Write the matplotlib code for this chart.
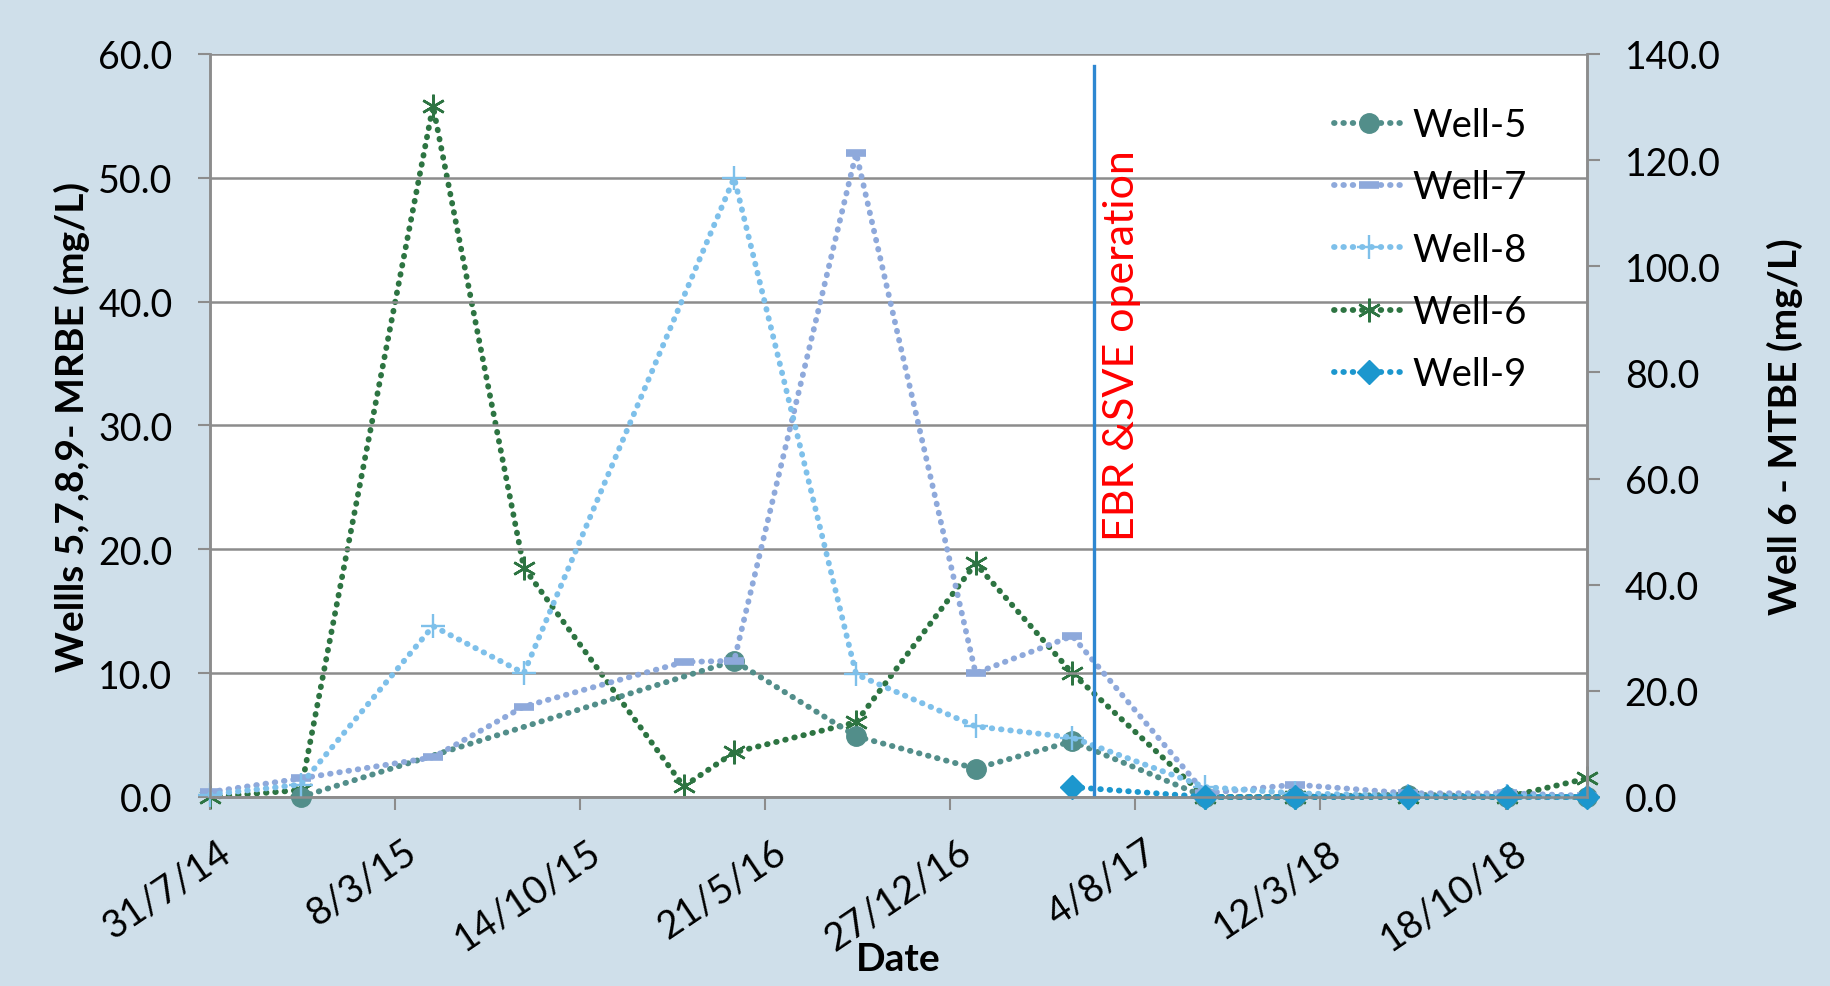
import datetime as dt
import matplotlib
matplotlib.use("Agg")
import matplotlib.pyplot as plt
import matplotlib.dates as mdates
import matplotlib.transforms as mtrans
from matplotlib.ticker import FuncFormatter, MultipleLocator

plt.rcParams['font.family'] = ['Lato', 'DejaVu Sans']

# sampling dates
dates = [dt.date(2014, 7, 31), dt.date(2014, 11, 16), dt.date(2015, 4, 22),
         dt.date(2015, 8, 8), dt.date(2016, 2, 14), dt.date(2016, 4, 14),
         dt.date(2016, 9, 6), dt.date(2017, 1, 26), dt.date(2017, 5, 21),
         dt.date(2017, 10, 26), dt.date(2018, 2, 10), dt.date(2018, 6, 24),
         dt.date(2018, 10, 20), dt.date(2019, 1, 23)]

# left axis series (mg/L), None = no sample
well5 = [None, 0.0, None, None, None, 11.0, 4.9, 2.3, 4.5, 0.0, 0.0, 0.2, 0.0, 0.0]
well7 = [0.4, 1.5, 3.2, 7.3, 10.9, 11.0, 52.0, 10.0, 13.0, 0.3, 1.0, 0.3, 0.3, 0.1]
well8 = [0.2, 1.0, 13.8, 10.0, None, 50.0, 9.9, 5.7, 4.8, 0.8, 0.3, 0.1, 0.1, 0.0]
well9 = [None, None, None, None, None, None, None, None, 0.8, 0.0, 0.0, 0.0, 0.0, 0.0]
# right axis series (mg/L)
well6 = [0.0, 1.3, 130.2, 43.2, 2.0, 8.4, 14.1, 44.0, 23.3, 0.0, 0.0, 0.0, 0.0, 3.5]

event_date = dt.date(2017, 6, 16)
event_label = "EBR &SVE operation"
x_start = dt.date(2014, 7, 31)
x_end = dt.date(2019, 1, 23)


def pick(vals):
    xs = [d for d, v in zip(dates, vals) if v is not None]
    ys = [v for v in vals if v is not None]
    return xs, ys


bg = '#CFDFEA'
grid_c = '#8C8C8C'
dot = (0, (0.1, 1.5))
lw = 4.2

fig = plt.figure(figsize=(18.3, 9.87), dpi=100, facecolor=bg)
ax1 = fig.add_axes([0.1148, 0.1915, 0.7525, 0.7528])
ax2 = ax1.twinx()
# left-axis series drawn above the right-axis one
ax1.set_zorder(2)
ax1.patch.set_visible(False)
ax2.patch.set_visible(True)
ax2.patch.set_facecolor('white')

common = dict(linestyle=dot, linewidth=lw, dash_capstyle='round', clip_on=False)

x, y = pick(well6)
h6, = ax2.plot(x, y, color='#2D7442', marker=(6, 2, 0), markersize=17, markeredgewidth=1.8, label='Well-6', **common)
x, y = pick(well5)
h5, = ax1.plot(x, y, color='#528E8A', marker='o', markersize=14, label='Well-5', **common)
x, y = pick(well7)
h7, = ax1.plot(x, y, color='#8EA9DB', marker='_', markersize=14, markeredgewidth=5.5, label='Well-7', **common)
x, y = pick(well8)
h8, = ax1.plot(x, y, color='#7EC0EA', marker='+', markersize=17, markeredgewidth=1.7, label='Well-8', **common)
x, y = pick(well9)
h9, = ax1.plot(x, y, color='#1C97CE', marker='D', markersize=12, label='Well-9', **common)

# event line and label
ax1.plot([event_date, event_date], [0, 59.0], color='#2E87D1', linewidth=2.4)
ax1.text(event_date + dt.timedelta(days=10), 52.3, event_label, rotation=90,
         color='red', fontsize=31, ha='left', va='top')

# axes limits and ticks
ax1.set_xlim(x_start, x_end)
ax1.set_ylim(0, 60)
ax2.set_ylim(0, 140)
ticks = [x_start + dt.timedelta(days=220 * i) for i in range(8)]
ax1.set_xticks(ticks)
ax1.xaxis.set_major_formatter(FuncFormatter(
    lambda v, p: "{}/{}/{}".format(mdates.num2date(v).day, mdates.num2date(v).month,
                                   mdates.num2date(v).year % 100)))
ax1.yaxis.set_major_locator(MultipleLocator(10))
ax2.yaxis.set_major_locator(MultipleLocator(20))
fmt = FuncFormatter(lambda v, p: "%.1f" % v)
ax1.yaxis.set_major_formatter(fmt)
ax2.yaxis.set_major_formatter(fmt)

ax1.grid(axis='y', color=grid_c, linewidth=1.8, zorder=0)
ax1.set_axisbelow(True)
for ax in (ax1, ax2):
    for s in ax.spines.values():
        s.set_color(grid_c)
        s.set_linewidth(1.8)
    ax.spines['top'].set_visible(False)
    ax.tick_params(colors=grid_c, labelcolor='black', labelsize=27, width=1.5, length=9,
                   direction='out', pad=18)
ax1.tick_params(axis='x', pad=17, labelsize=27.5)

shift = mtrans.ScaledTranslation(0.07, 0, fig.dpi_scale_trans)
for lab in ax1.get_xticklabels():
    lab.set_rotation(34)
    lab.set_ha('right')
    lab.set_rotation_mode('anchor')
    lab.set_transform(lab.get_transform() + shift)

ax1.set_xlabel('Date', fontsize=28, fontweight='bold')
ax1.xaxis.set_label_coords(0.5, -0.194)
ax1.set_ylabel('Wellls 5,7,8,9- MRBE (mg/L)', fontsize=28, fontweight='bold', labelpad=6)
ax2.set_ylabel('Well 6 - MTBE (mg/L)', fontsize=28, fontweight='bold', labelpad=33)

ax1.legend(handles=[h5, h7, h8, h6, h9], loc='upper left', bbox_to_anchor=(0.791, 0.975),
           frameon=False, fontsize=27.5, handlelength=1.85, handletextpad=0.2, labelspacing=0.69)

fig.savefig('out.png', dpi=100, facecolor=bg)
